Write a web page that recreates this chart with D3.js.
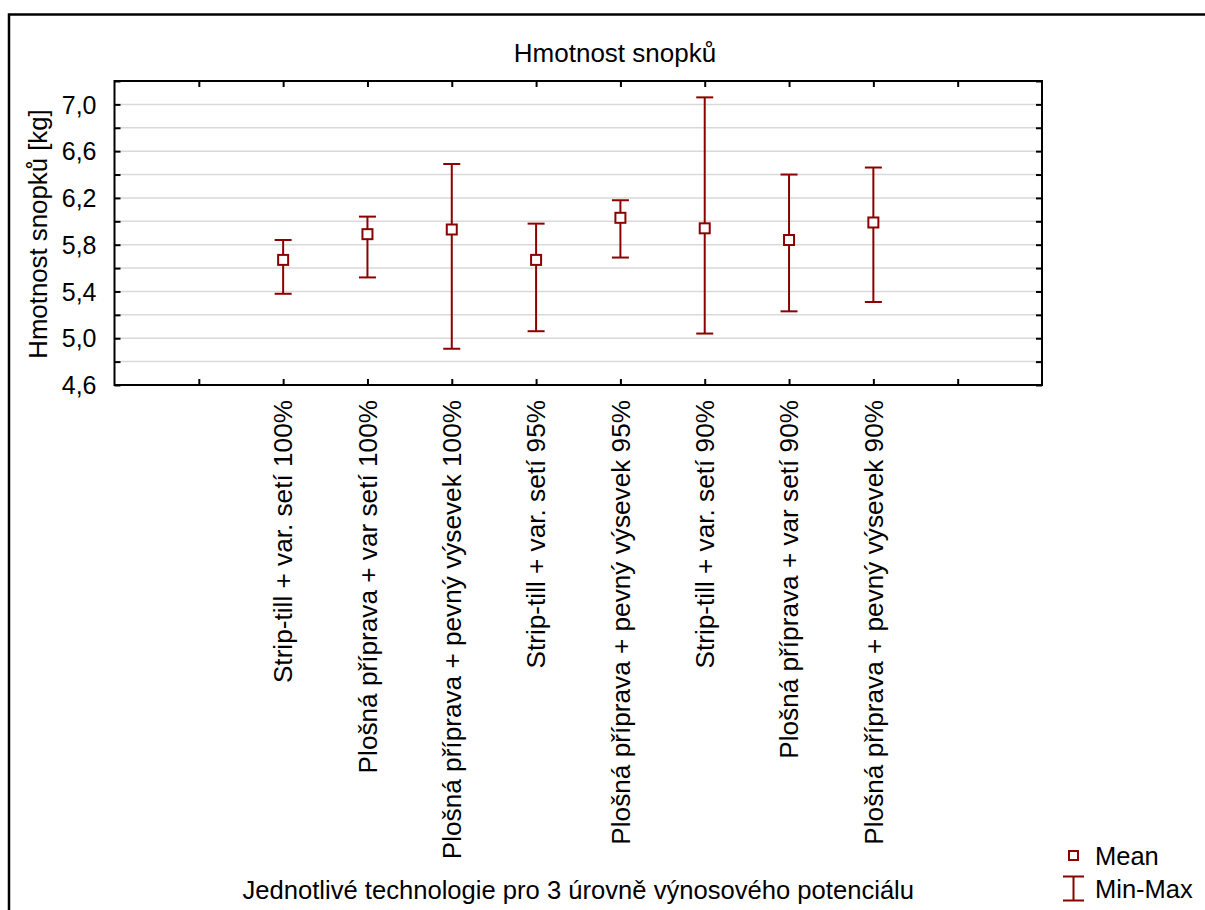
<!DOCTYPE html>
<html><head><meta charset="utf-8">
<script src="https://cdn.jsdelivr.net/npm/d3@7"></script>
<style>
html,body{margin:0;padding:0;background:#fff;}
svg{display:block;font-family:"Liberation Sans",Arial,sans-serif;}
</style></head>
<body>
<svg id="chart" width="1205" height="910"></svg>
<script>
const categories = [
  "Strip-till + var. setí 100%",
  "Plošná příprava + var setí 100%",
  "Plošná příprava + pevný výsevek 100%",
  "Strip-till + var. setí 95%",
  "Plošná příprava + pevný výsevek 95%",
  "Strip-till + var. setí 90%",
  "Plošná příprava + var setí 90%",
  "Plošná příprava + pevný výsevek 90%"
];
const means = [5.67, 5.89, 5.93, 5.67, 6.03, 5.94, 5.84, 5.99];
const mins  = [5.38, 5.52, 4.91, 5.06, 5.69, 5.04, 5.23, 5.31];
const maxs  = [5.84, 6.04, 6.49, 5.98, 6.18, 7.06, 6.40, 6.46];
const yTicks = [4.6, 4.8, 5.0, 5.2, 5.4, 5.6, 5.8, 6.0, 6.2, 6.4, 6.6, 6.8, 7.0, 7.2];
const yLabels = [4.6, 5.0, 5.4, 5.8, 6.2, 6.6, 7.0];
const title = "Hmotnost snopků";
const yTitle = "Hmotnost snopků [kg]";
const xTitle = "Jednotlivé technologie pro 3 úrovně výnosového potenciálu";
const legendLabels = ["Mean", "Min-Max"];

const svg = d3.select("#chart");
const L = 114.5, R = 1042, T = 81, B = 385;
const col = "#8b0000";
const FS = 25;

// outer frame
svg.append("path").attr("d", `M9,930 L9,14.5 L1230,14.5`).attr("fill","none")
  .attr("stroke","#000").attr("stroke-width",2.5);

const x = d3.scaleLinear().domain([0, 11]).range([L, R]);
const y = d3.scaleLinear().domain([4.6, 7.2]).range([B, T]);
const xTickVals = d3.range(1, 11);

// gridlines
svg.append("g").selectAll("line").data(yTicks.filter(v => v > 4.65 && v < 7.15)).join("line")
  .attr("x1", L).attr("x2", R).attr("y1", d => y(d)).attr("y2", d => y(d))
  .attr("stroke", "#d9d9d9").attr("stroke-width", 1.5);

// axes with inward ticks
const fmt = d => yLabels.some(v => Math.abs(v - d) < 1e-6) ? d3.format(".1f")(d).replace(".", ",") : "";
const yLeft = svg.append("g").attr("transform", `translate(${L},0)`)
  .call(d3.axisLeft(y).tickValues(yTicks).tickSizeInner(-6).tickSizeOuter(0).tickPadding(18).tickFormat(fmt));
const yRight = svg.append("g").attr("transform", `translate(${R},0)`)
  .call(d3.axisRight(y).tickValues(yTicks).tickSizeInner(-6).tickSizeOuter(0).tickFormat(""));
const xTop = svg.append("g").attr("transform", `translate(0,${T})`)
  .call(d3.axisTop(x).tickValues(xTickVals).tickSizeInner(-6).tickSizeOuter(0).tickFormat(""));
const xBot = svg.append("g").attr("transform", `translate(0,${B})`)
  .call(d3.axisBottom(x).tickValues(xTickVals).tickSizeInner(-6).tickSizeOuter(0).tickFormat(""));
[yLeft, yRight, xTop, xBot].forEach(g => {
  g.select(".domain").remove();
  g.selectAll(".tick line").attr("stroke", "#000").attr("stroke-width", 2);
});
yLeft.selectAll(".tick text").attr("font-size", FS).attr("fill", "#000")
  .attr("font-family", '"Liberation Sans",Arial,sans-serif').attr("dy", "0.35em");

// plot frame
svg.append("rect").attr("x", L).attr("y", T).attr("width", R - L).attr("height", B - T)
  .attr("fill", "none").attr("stroke", "#000").attr("stroke-width", 2);

// category labels
svg.append("g").selectAll("text").data(categories).join("text")
  .attr("transform", (d, i) => `translate(${x(i + 2)},400) rotate(-90)`)
  .attr("text-anchor", "end").attr("dy", "0.35em").attr("font-size", 26.2).attr("fill", "#000")
  .text(d => d);

// error bars
const eb = svg.append("g").attr("stroke", col).attr("stroke-width", 2).attr("fill", "none");
categories.forEach((c, i) => {
  const cx = x(i + 2);
  eb.append("line").attr("x1", cx).attr("x2", cx).attr("y1", y(maxs[i])).attr("y2", y(mins[i]));
  eb.append("line").attr("x1", cx - 8.5).attr("x2", cx + 8.5).attr("y1", y(maxs[i])).attr("y2", y(maxs[i]));
  eb.append("line").attr("x1", cx - 8.5).attr("x2", cx + 8.5).attr("y1", y(mins[i])).attr("y2", y(mins[i]));
});
svg.append("g").selectAll("rect").data(means).join("rect")
  .attr("x", (d, i) => x(i + 2) - 5).attr("y", d => y(d) - 5)
  .attr("width", 10).attr("height", 10)
  .attr("fill", "#fff").attr("stroke", col).attr("stroke-width", 2);

// titles
svg.append("text").attr("x", 615).attr("y", 62).attr("text-anchor", "middle")
  .attr("font-size", 26).attr("fill", "#000").text(title);
svg.append("text").attr("transform", `translate(47,234) rotate(-90)`).attr("text-anchor", "middle")
  .attr("font-size", 25.8).attr("fill", "#000").text(yTitle);
svg.append("text").attr("x", (L + R) / 2).attr("y", 899).attr("text-anchor", "middle")
  .attr("font-size", 25.6).attr("fill", "#000").text(xTitle);

// legend
const lg = svg.append("g");
lg.append("rect").attr("x", 1069).attr("y", 851).attr("width", 9).attr("height", 9)
  .attr("fill", "#fff").attr("stroke", col).attr("stroke-width", 2);
lg.append("text").attr("x", 1095).attr("y", 865).attr("font-size", 25.5).attr("fill", "#000").text(legendLabels[0]);
lg.append("path").attr("d", "M1063,876.5 L1084,876.5 M1073.5,876.5 L1073.5,900.5 M1063,900.5 L1084,900.5")
  .attr("stroke", col).attr("stroke-width", 2).attr("fill", "none");
lg.append("text").attr("x", 1095).attr("y", 898).attr("font-size", 25.5).attr("fill", "#000").text(legendLabels[1]);
</script>
</body></html>
